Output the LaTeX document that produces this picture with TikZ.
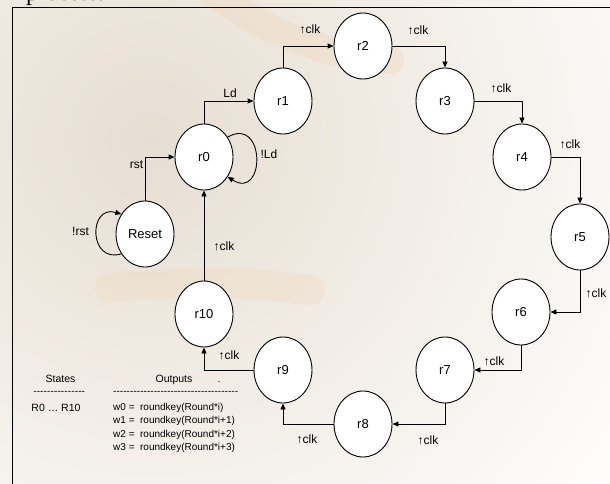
\documentclass[tikz,border=0pt]{standalone}
\usepackage{fontspec}
\setmainfont{Liberation Sans}
\newfontfamily\bodyserif{Liberation Serif}
\usetikzlibrary{shapes.geometric,arrows.meta}

\definecolor{wmbeige}{RGB}{231,222,210}
\definecolor{wmorange}{RGB}{238,212,180}

% a row of hyphens filling a given width
\newcommand\hyphenrow[1]{\hbox to #1{\xleaders\hbox{-}\hfill}}

\begin{document}
\begin{tikzpicture}[x=1pt,y=-1pt,
    state/.style={ellipse,draw,line width=0.9pt,fill=white,minimum width=58pt,minimum height=66pt,inner sep=0pt,font=\fontsize{13}{15}\selectfont},
    tr/.style={line width=0.9pt,-{Triangle[length=6pt,width=5pt]}},
    lbl/.style={anchor=base,inner sep=0pt,font=\fontsize{12}{14}\selectfont},
    key/.style={anchor=base west,inner sep=0pt,font=\fontsize{10}{12}\selectfont}]
    \useasboundingbox (0,0) rectangle (610,484);
    \clip (0,0) rectangle (610,484);
    % faint page background
    \fill[white] (0,0) rectangle (610,484);
    \shade[inner color=wmbeige,outer color=white] (150,140) circle (600);
    \draw[wmorange,line width=28pt,opacity=0.3,line cap=round] (215,-5) .. controls (280,40) and (330,55) .. (390,60);
    \draw[wmorange,line width=30pt,opacity=0.25,line cap=round] (110,288) .. controls (180,280) and (250,282) .. (310,290);
    \node[font=\bodyserif\fontsize{24}{26}\selectfont,anchor=base west,inner sep=0pt] (head) at (26,0.5) {process.};
    % frame
    \draw[line width=1.6pt] (12.5,495) -- (12.5,7.5) -- (620,7.5);

    % states
    \node[state] (reset) at (145,234) {Reset};
    \node[state] (r0) at (204,157) {r0};
    \node[state] (r1) at (283,101) {r1};
    \node[state] (r2) at (363,46) {r2};
    \node[state] (r3) at (445,101) {r3};
    \node[state] (r4) at (522,157) {r4};
    \node[state] (r5) at (580,237) {r5};
    \node[state] (r6) at (521,312) {r6};
    \node[state] (r7) at (445,370) {r7};
    \node[state] (r8) at (363,424) {r8};
    \node[state] (r9) at (283,370) {r9};
    \node[state] (r10) at (204,314) {r10};

    % transitions
    \draw[tr] (reset.-140) .. controls +(-33,10) and +(-33,-10) .. (reset.140);
    \draw[tr] (reset.north) |- (r0.west);
    \draw[tr] (r0.40) .. controls +(38,-22) and +(38,24) .. (r0.-40);
    \draw[tr] (r0.north) |- (r1.west);
    \draw[tr] (r1.north) |- (r2.west);
    \draw[tr] (r2.east) -| (r3.north);
    \draw[tr] (r3.east) -| (r4.north);
    \draw[tr] (r4.east) -| (r5.north);
    \draw[tr] (r5.south) |- (r6.east);
    \draw[tr] (r6.south) |- (r7.east);
    \draw[tr] (r7.south) |- (r8.east);
    \draw[tr] (r8.west) -| (r9.south);
    \draw[tr] (r9.west) -| (r10.south);
    \draw[tr] (r10.north) -- (r0.south);

    % conditions
    \node[lbl] (nrst) at (80.5,235) {!rst};
    \node[lbl] (rst) at (136.5,168) {rst};
    \node[lbl] (ld) at (230,98) {Ld};
    \node[lbl] (nld) at (269,158) {!Ld};
    \node[lbl] (clk12) at (310,34) {↑clk};
    \node[lbl] (clk23) at (418,35) {↑clk};
    \node[lbl] (clk34) at (501,93) {↑clk};
    \node[lbl] (clk45) at (570,149) {↑clk};
    \node[lbl] (clk56) at (596,297) {↑clk};
    \node[lbl] (clk67) at (494,365) {↑clk};
    \node[lbl] (clk78) at (428,444) {↑clk};
    \node[lbl] (clk89) at (307,443) {↑clk};
    \node[lbl] (clk910) at (229,359) {↑clk};
    \node[lbl] (clk100) at (224,250) {↑clk};

    % key
    \node[lbl,font=\fontsize{10.5}{12}\selectfont] (kstates) at (60.5,382) {States};
    \node[key] (kline1) at (33,394.7) {\hyphenrow{52pt}};
    \node[lbl,font=\fontsize{10.5}{12}\selectfont] (krange) at (56,411.5) {R0 … R10};
    \node[lbl,font=\fontsize{10.5}{12}\selectfont] (koutputs) at (174,382) {Outputs};
    \node[lbl,font=\fontsize{10}{12}\selectfont] (kdot) at (219,382) {.};
    \node[key] (kline2) at (113,394.7) {\hyphenrow{125pt}};
    \node[key] (kw0) at (113,410.5) {w0 = \ roundkey(Round*i)};
    \node[key] (kw1) at (113,423.8) {w1 = \ roundkey(Round*i+1)};
    \node[key] (kw2) at (113,437.1) {w2 = \ roundkey(Round*i+2)};
    \node[key] (kw3) at (113,450.4) {w3 = \ roundkey(Round*i+3)};
\end{tikzpicture}
\end{document}
